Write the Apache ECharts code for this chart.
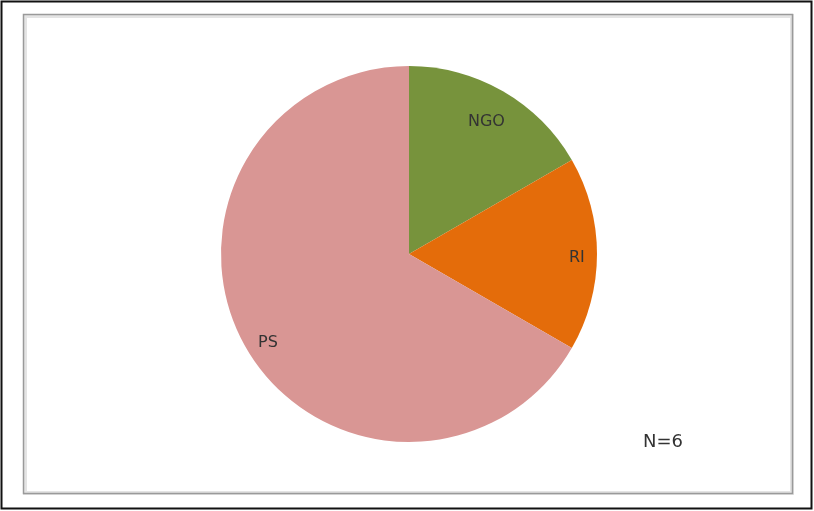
<!DOCTYPE html>
<html>
<head>
<meta charset="utf-8">
<script src="https://cdn.jsdelivr.net/npm/echarts@6/dist/echarts.min.js"></script>
<style>
  html, body { margin: 0; padding: 0; background: #fff; }
  #chart { width: 814px; height: 511px; }
</style>
</head>
<body>
<div id="chart"></div>
<script>
// Respondent groups and their counts
const categories = ['NGO', 'RI', 'PS'];
const counts = [1, 1, 4];
const sliceColors = ['#77933C', '#E46C0A', '#D99694'];
const sampleNote = 'N=6';

const chart = echarts.init(document.getElementById('chart'));

const cx = 409, cy = 254, R = 188;
const labelFont = '"DejaVu Sans", sans-serif';
// Nudges for each slice name, relative to the ring midpoint
const labelNudge = [[-4, 9], [5, 4], [0, 7]];

const pieData = categories.map((name, i) => ({
  name: name,
  value: counts[i],
  itemStyle: { color: sliceColors[i] }
}));

// Transparent ring so the names sit near the outer edge of each slice
const labelData = categories.map((name, i) => ({
  name: name,
  value: counts[i],
  itemStyle: { color: 'rgba(0,0,0,0)' },
  label: { offset: labelNudge[i] }
}));

chart.setOption({
  animation: false,
  graphic: [
    { type: 'rect', shape: { x: 1.5, y: 1.5, width: 810, height: 507 },
      style: { fill: 'none', stroke: '#111', lineWidth: 2 } },
    { type: 'rect', shape: { x: 25, y: 16, width: 767, height: 477 },
      style: { fill: 'none', stroke: '#e4e4e4', lineWidth: 4 } },
    { type: 'rect', shape: { x: 23.5, y: 14.5, width: 769, height: 479 },
      style: { fill: 'none', stroke: '#9a9a9a', lineWidth: 1.5 } },
    { type: 'text', left: 643, top: 433,
      style: { text: sampleNote, font: '18px ' + labelFont, fill: '#333' } }
  ],
  series: [
    {
      type: 'pie',
      center: [cx, cy],
      radius: [0, R],
      startAngle: 90,
      clockwise: true,
      label: { show: false },
      labelLine: { show: false },
      emphasis: { disabled: true },
      data: pieData
    },
    {
      type: 'pie',
      center: [cx, cy],
      radius: [R * 0.7, R],
      startAngle: 90,
      clockwise: true,
      silent: true,
      label: {
        show: true,
        position: 'inside',
        color: '#333',
        fontSize: 16,
        fontFamily: labelFont
      },
      labelLine: { show: false },
      emphasis: { disabled: true },
      data: labelData
    }
  ]
});
</script>
</body>
</html>
